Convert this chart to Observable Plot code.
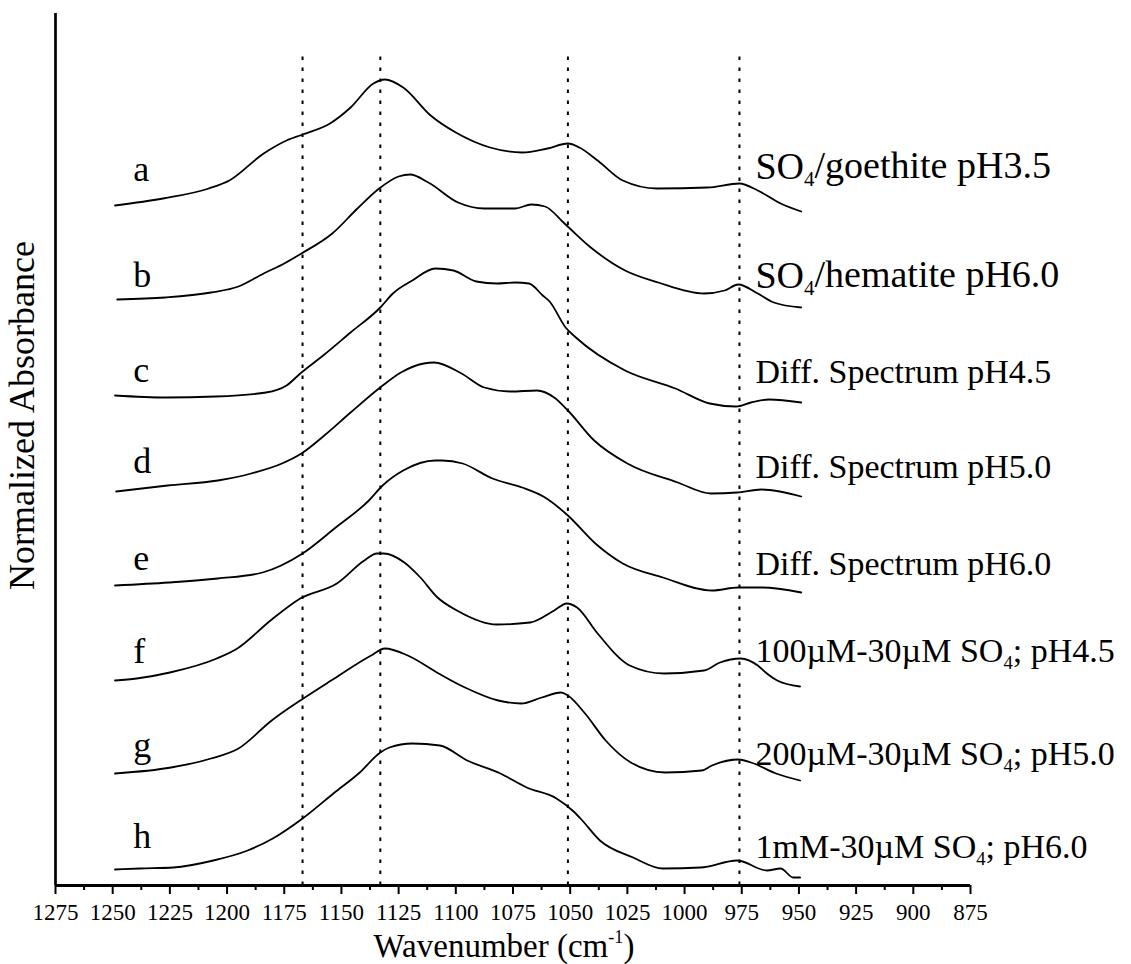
<!DOCTYPE html>
<html>
<head>
<meta charset="utf-8">
<script src="https://cdn.jsdelivr.net/npm/d3@7"></script>
<script src="https://cdn.jsdelivr.net/npm/@observablehq/plot@0.6"></script>
<style>
  html, body { margin: 0; padding: 0; background: #fff; }
  #chart svg { display: block; }
</style>
</head>
<body>
<div id="chart"></div>
<script>
// Stacked ATR-FTIR spectra of adsorbed sulfate (normalized, offset for display)
const letters = ["a", "b", "c", "d", "e", "f", "g", "h"];
const sampleNames = [
  "SO4/goethite pH3.5",
  "SO4/hematite pH6.0",
  "Diff. Spectrum pH4.5",
  "Diff. Spectrum pH5.0",
  "Diff. Spectrum pH6.0",
  "100µM-30µM SO4; pH4.5",
  "200µM-30µM SO4; pH5.0",
  "1mM-30µM SO4; pH6.0"
];

// wavenumber (cm-1) and offset absorbance for each spectrum
const waveA = [1249,1228,1208,1199,1184,1174,1167,1155,1146,1136,1131,1123,1111,1100,1085,1071,1060,1051,1046,1038,1027,1012,990,976,968,958,949];
const absA  = [6.80,6.87,6.97,7.05,7.32,7.45,7.51,7.62,7.78,8.02,8.06,7.98,7.70,7.53,7.38,7.33,7.37,7.42,7.38,7.25,7.05,6.97,6.98,7.02,6.95,6.82,6.74];

const waveB = [1248,1227,1207,1195,1184,1175,1167.5,1154,1143,1133.5,1125,1120,1112,1099,1087.5,1074,1067,1061,1052.5,1041,1026,1011.5,991.5,982.5,976.5,968,961,949];
const absB  = [5.86,5.88,5.93,5.99,6.12,6.22,6.32,6.52,6.77,6.97,7.09,7.11,7.03,6.83,6.77,6.77,6.81,6.79,6.62,6.38,6.15,6.03,5.92,5.95,6.01,5.92,5.83,5.78];

const waveC = [1249,1227,1205,1183,1174,1168,1158,1146,1133,1127.5,1119,1109,1101,1091,1082,1074,1068,1062,1059,1052,1047.5,1026,1004,989,977.5,971,963,949];
const absC  = [4.90,4.88,4.89,4.93,5.00,5.12,5.30,5.53,5.78,5.92,6.05,6.17,6.15,6.04,6.02,6.03,6.02,5.90,5.84,5.58,5.48,5.15,4.97,4.82,4.79,4.83,4.86,4.83];

const waveD = [1248.5,1226,1204,1189.5,1176,1167.5,1157.5,1146,1132.5,1124,1114,1109.5,1097.5,1087.5,1076,1064.5,1057,1051,1039.5,1025,1003,988.5,977,966.5,949];
const absD  = [3.94,4.00,4.05,4.12,4.22,4.32,4.50,4.73,4.99,5.13,5.22,5.23,5.12,4.98,4.94,4.95,4.88,4.75,4.45,4.22,4.03,3.92,3.93,3.96,3.89];

const waveE = [1249,1225.5,1204,1184.5,1167,1152.5,1138,1132,1123,1109,1106,1097,1084,1071,1061,1051,1039,1027,1009.5,988,976.5,966,949];
const absE  = [3.00,3.03,3.07,3.13,3.32,3.58,3.85,4.00,4.15,4.25,4.25,4.22,4.07,3.98,3.88,3.70,3.42,3.22,3.08,2.95,2.98,2.98,2.93];

const waveF = [1249,1239.5,1225,1204.5,1195.5,1181,1168,1152,1140,1134.5,1131.5,1122.5,1115.5,1108,1099.5,1082,1067.5,1057,1051.5,1047,1038,1024,1009,991.5,984.5,975.5,968,964,959.5,949.5];
const absF  = [2.05,2.07,2.13,2.27,2.37,2.65,2.87,3.02,3.25,3.32,3.32,3.23,3.08,2.88,2.75,2.61,2.63,2.75,2.82,2.78,2.52,2.20,2.12,2.15,2.23,2.27,2.20,2.12,2.05,1.99];

const waveG = [1249,1224.5,1207,1195,1180.5,1168,1154.5,1137,1131,1121,1107.5,1096,1081.5,1071.5,1062.5,1054,1051,1043.5,1034.5,1023.5,1008.5,992.5,988,976.5,971,960,949.5];
const absG  = [1.12,1.18,1.27,1.37,1.65,1.85,2.05,2.30,2.37,2.30,2.12,1.98,1.85,1.82,1.88,1.93,1.90,1.72,1.45,1.23,1.13,1.15,1.20,1.26,1.23,1.12,1.05];

const waveH = [1249,1238,1223.5,1206,1191,1180,1167,1153.5,1142,1133,1129,1119,1107,1095,1080.5,1069,1056,1049,1045.5,1037,1022.5,1009.5,993,977,964,958,952.5,949.5];
const absH  = [0.16,0.17,0.18,0.25,0.35,0.47,0.67,0.92,1.13,1.33,1.38,1.42,1.40,1.25,1.12,0.98,0.87,0.75,0.67,0.45,0.28,0.17,0.18,0.25,0.15,0.17,0.08,0.08];

// reference band positions (cm-1)
const peakLines = [1167, 1133, 1051, 976];

// axis ticks
const xTicks = d3.range(875, 1276, 25);
const xMinorTicks = d3.range(887.5, 1275, 25);

// label anchors (data units): letter tags on the left, sample names on the right
const letterY = [7.16, 6.10, 5.15, 4.24, 3.27, 2.34, 1.40, 0.49];
const nameY   = [7.19, 6.10, 5.13, 4.18, 3.21, 2.34, 1.31, 0.38];
const letterX = 1241;
const nameX = 969;

const spectra = [
  [waveA, absA], [waveB, absB], [waveC, absC], [waveD, absD],
  [waveE, absE], [waveF, absF], [waveG, absG], [waveH, absH]
];
const rows = spectra.flatMap(([w, a], i) => w.map((x, j) => ({id: letters[i], w: x, v: a[j]})));
const letterRows = letters.map((id, i) => ({id, w: letterX, v: letterY[i]}));
const nameRows = sampleNames.map((name, i) => ({name, w: nameX, v: nameY[i], big: i < 2}));

const serif = "'Liberation Serif', 'Times New Roman', serif";

const chart = Plot.plot({
  width: 1131,
  height: 964,
  marginLeft: 55,
  marginRight: 161,
  marginTop: 13,
  marginBottom: 79,
  style: {fontFamily: serif, fontSize: "22px", color: "black", background: "white"},
  x: {domain: [1275, 875]},
  y: {domain: [0, 8.72], axis: null},
  marks: [
    // dotted reference bands
    Plot.ruleX(peakLines, {y1: 0, y2: 8.36, stroke: "black", strokeWidth: 2, strokeDasharray: "3.5,7.5"}),
    // spectra
    Plot.line(rows, {x: "w", y: "v", z: "id", stroke: "black", strokeWidth: 1.8, curve: "monotone-x"}),
    // frame: vertical axis line and baseline
    Plot.ruleX([1275], {y1: 0, y2: 8.72, stroke: "black", strokeWidth: 2.7}),
    Plot.ruleY([0], {x1: 1275, x2: 875, stroke: "black", strokeWidth: 3}),
    // ticks
    Plot.axisX({ticks: xTicks, tickSize: 9, tickPadding: 9, tickFormat: d => `${d}`, label: null,
      fontSize: 22, fontFamily: serif, strokeWidth: 2}),
    Plot.axisX({ticks: xMinorTicks, tickSize: 5, tickFormat: () => "", label: null, strokeWidth: 2}),
    // letter tags
    Plot.text(letterRows, {x: "w", y: "v", text: "id", textAnchor: "start", lineAnchor: "middle", fontSize: 36, fontFamily: serif, fill: "black"}),
    // sample names
    Plot.text(nameRows.filter(d => d.big), {x: "w", y: "v", text: "name", textAnchor: "start", lineAnchor: "middle", fontSize: 38, fontFamily: serif, fill: "black"}),
    Plot.text(nameRows.filter(d => !d.big), {x: "w", y: "v", text: "name", textAnchor: "start", lineAnchor: "middle", fontSize: 34, fontFamily: serif, fill: "black"}),
    // axis titles
    Plot.text(["Wavenumber (cm-1)"], {frameAnchor: "bottom", textAnchor: "middle", lineAnchor: "middle", dx: -9, dy: 61, fontSize: 33, fontFamily: serif, fill: "black"}),
    Plot.text(["Normalized Absorbance"], {frameAnchor: "left", textAnchor: "middle", lineAnchor: "middle", rotate: -90, dx: -33, dy: -34, fontSize: 36, fontFamily: serif, fill: "black"})
  ]
});

// tick labels at the same size as the printed scale
d3.select(chart).selectAll('g[aria-label="x-axis tick label"]')
  .attr("font-size", 23)
  .selectAll("text").attr("font-size", 23);

// chemical subscripts and the unit exponent
d3.select(chart).selectAll("text").each(function () {
  const t = this.textContent;
  const sub = t.indexOf("SO4");
  const sup = t.indexOf("cm-1");
  const el = d3.select(this);
  if (sub >= 0) {
    el.text(null);
    el.append("tspan").text(t.slice(0, sub + 2));
    el.append("tspan").attr("font-size", "0.55em").attr("dy", "0.35em").text("4");
    el.append("tspan").attr("dy", "-0.2em").text(t.slice(sub + 3));
  } else if (sup >= 0) {
    el.text(null);
    el.append("tspan").text(t.slice(0, sup + 2));
    el.append("tspan").attr("font-size", "0.55em").attr("dy", "-0.75em").text("-1");
    el.append("tspan").attr("dy", "0.41em").text(t.slice(sup + 4));
  }
});

document.getElementById("chart").appendChild(chart);
</script>
</body>
</html>
